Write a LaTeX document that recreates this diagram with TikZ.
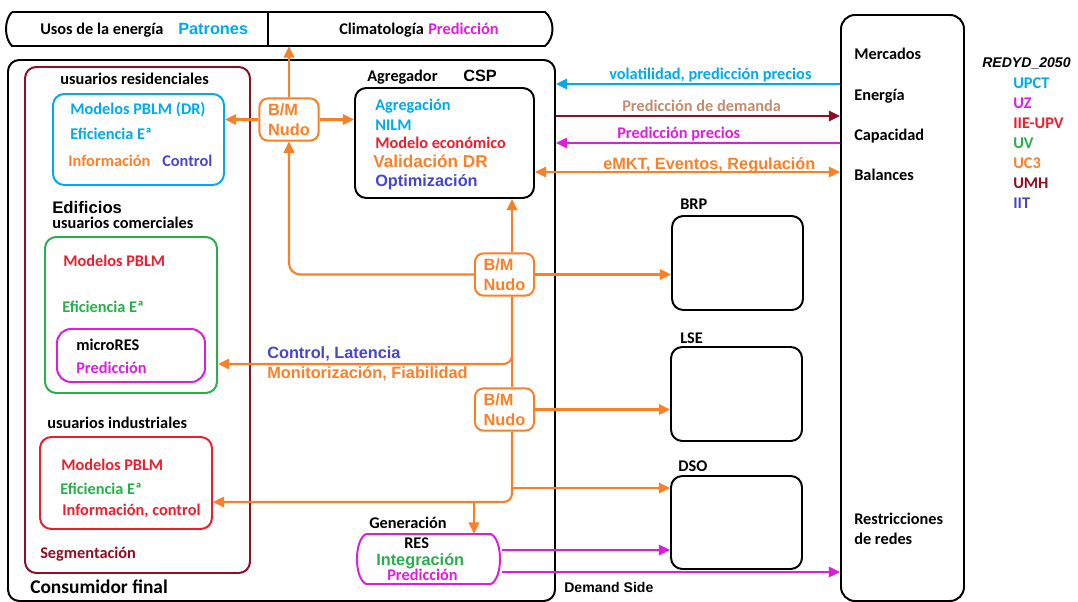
\documentclass[tikz,border=0pt]{standalone}
\usepackage{fontspec}
\setmainfont{Carlito}
\newfontfamily\arialfam{Liberation Sans}
\usetikzlibrary{arrows.meta,fit,positioning}

\definecolor{ccyan}{RGB}{0,170,235}
\definecolor{cmag}{RGB}{220,30,220}
\definecolor{cred}{RGB}{235,30,45}
\definecolor{cgreen}{RGB}{40,175,75}
\definecolor{corange}{RGB}{250,128,40}
\definecolor{cdred}{RGB}{140,15,35}
\definecolor{cblue}{RGB}{70,70,205}
\definecolor{ctan}{RGB}{195,140,110}

\newcommand\calb{\fontsize{11.6}{13}\selectfont\bfseries}
\newcommand\arlb{\arialfam\fontsize{11.6}{13}\selectfont\bfseries}

\tikzset{
	grp/.style={draw=#1, line width=1.4pt, rounded corners=8pt, inner sep=0pt},
	grp/.default=black,
	txt/.style={anchor=base west, inner sep=0pt, font=\calb, text=#1},
	txt/.default=black,
	atxt/.style={anchor=base west, inner sep=0pt, font=\arlb, text=#1},
	atxt/.default=black,
	bm/.style={draw=corange, text=corange, line width=1.4pt, rounded corners=6pt, align=left,
		minimum width=42pt, minimum height=30pt, inner sep=1pt,
		font=\arialfam\fontsize{11.6}{14.2}\selectfont\bfseries},
	link/.style={draw=#1, line width=1.5pt, ->},
	link/.default=corange,
	wire/.style={draw=corange, line width=1.5pt},
}

\begin{document}
\begin{tikzpicture}[x=0.025cm, y=-0.025cm, >={Triangle[length=8pt,width=7.5pt]}]
	\useasboundingbox (0,0) rectangle (1078,602);
	
	%Banner
	\node[fit={(6,12) (556,46)}, inner sep=0pt] (banner) {};
	\draw[line width=1.4pt] (12,12) -- (545,12) .. controls (555,20) and (555,38) .. (545,46) -- (12,46) .. controls (4,38) and (4,20) .. (12,12);
	\draw[line width=1.4pt] (268,12) -- (268,46);
	\node[txt] (usos) at (40,35) {Usos de la energía};
	\node[atxt=ccyan] (patrones) at (178,35) {Patrones};
	\node[txt] (clima) at (339,35) {Climatología};
	\node[txt=cmag] (climapred) at (428,35) {Predicción};
	
	%Consumidor final
	\node[grp, fit={(8,60) (555,601)}] (final) {};
	\node[grp=cdred, fit={(25,67) (250,573)}] (segm) {};
	\node[txt, font=\fontsize{13.8}{15}\selectfont\bfseries] (finaltxt) at (30,593) {Consumidor final};
	\node[txt=cdred] (segmtxt) at (40,558) {Segmentación};
	%usuarios residenciales
	\node[txt] (resid) at (60,85) {usuarios residenciales};
	\node[grp=ccyan, fit={(53,94) (224,185)}] (resbox) {};
	\node[txt=ccyan] (resmod) at (70,115) {Modelos PBLM (DR)};
	\node[txt=ccyan] (reseff) at (70,140) {Eficiencia Eª};
	\node[txt=corange] (resinf) at (68,167) {Información};
	\node[txt=cblue] (resctl) at (162,167) {Control};
	%usuarios comerciales
	\node[atxt, font=\arialfam\fontsize{11.9}{13}\selectfont\bfseries] (edif) at (52,214) {Edificios};
	\node[txt] (comer) at (52,229) {usuarios comerciales};
	\node[grp=cgreen, fit={(45,237) (217,393)}] (combox) {};
	\node[txt=cred] (commod) at (63,267) {Modelos PBLM};
	\node[txt=cgreen] (comeff) at (62,313) {Eficiencia Eª};
	\node[grp=cmag, rounded corners=10pt, fit={(57,329) (205,382)}] (microres) {};
	\node[txt] (microtxt) at (76,351) {microRES};
	\node[txt=cmag] (micropred) at (76,374) {Predicción};
	%usuarios industriales
	\node[txt] (indus) at (47,429) {usuarios industriales};
	\node[grp=cred, fit={(40,437) (212,529)}] (indbox) {};
	\node[txt=cred] (indmod) at (61,470) {Modelos PBLM};
	\node[txt=cgreen] (indeff) at (60,494) {Eficiencia Eª};
	\node[txt=cred] (indinf) at (62,515) {Información, control};
	
	%Agregador
	\node[txt] (aggtxt) at (367,82) {Agregador};
	\node[atxt] (csp) at (463,82) {CSP};
	\node[grp, fit={(355,88) (534,198)}] (agg) {};
	\node[txt=ccyan] (aggr) at (375,111) {Agregación};
	\node[txt=ccyan] (nilm) at (375,131) {NILM};
	\node[txt=cred] (econ) at (375,149) {Modelo económico};
	\node[atxt=corange, font=\arialfam\fontsize{12.2}{13}\selectfont\bfseries] (valdr) at (373,168) {Validación DR};
	\node[atxt=cblue] (optim) at (375,187) {Optimización};
	
	%Generacion
	\node[txt] (gentxt) at (369,528) {Generación};
	\node[fit={(355,534) (502,584)}, inner sep=0pt] (gen) {};
	\draw[cmag, line width=1.4pt] (366,534) -- (491,534) .. controls (503,540) and (503,578) .. (491,584) -- (366,584) .. controls (354,578) and (354,540) .. (366,534);
	\node[txt] (restxt) at (404,548) {RES};
	\node[atxt=cgreen] (integ) at (376,565) {Integración};
	\node[txt=cmag] (respred) at (387,580) {Predicción};
	
	%Demand Side
	\node[atxt, font=\arialfam\fontsize{10}{12}\selectfont\bfseries] (demside) at (564,592) {Demand Side};
	\node[txt] (brptxt) at (680,210) {BRP};
	\node[grp, fit={(672,216) (803,310)}] (brp) {};
	\node[txt] (lsetxt) at (680,344) {LSE};
	\node[grp, fit={(671,347) (802,441)}] (lse) {};
	\node[txt] (dsotxt) at (678,471) {DSO};
	\node[grp, fit={(671,476) (802,569)}] (dso) {};
	
	%B/M Nudo
	\node[bm] (bm1) at (289,119.5) {B/M\\Nudo};
	\node[bm] (bm2) at (504.5,274.5) {B/M\\Nudo};
	\node[bm] (bm3) at (504.5,409.5) {B/M\\Nudo};
	\coordinate (trunk) at (512,0);
	\coordinate (genx) at (474,0);
	\coordinate (ctlrow) at (0,364);
	\coordinate (dsorow) at (0,488);
	\coordinate (indrow) at (0,502);
	\draw[link] (bm1.west) -- (bm1.west -| resbox.east);
	\draw[link] (bm1.east) -- (bm1.east -| agg.west);
	\draw[link] (bm1.north) -- (bm1.north |- banner.south);
	\draw[link, rounded corners=8pt] (bm2.west) -| (bm1.south);
	\draw[link] (bm2.north -| trunk) -- (agg.south -| trunk);
	\draw[link] (bm2.east) -- (bm2.east -| brp.west);
	\draw[wire] (bm2.south -| trunk) -- (bm3.north -| trunk);
	\draw[link, rounded corners=6pt] (bm2.south -| trunk) |- (ctlrow -| combox.east);
	\node[atxt=cblue] (ctllat) at (267,359) {Control, Latencia};
	\node[atxt=corange] (monfia) at (267,378) {Monitorización, Fiabilidad};
	\draw[link] (bm3.east) -- (bm3.east -| lse.west);
	\draw[link, rounded corners=6pt] (bm3.south -| trunk) |- (indrow -| indbox.east);
	\draw[link] (trunk |- dsorow) -- (dsorow -| dso.west);
	\draw[link] (genx |- indrow) -- (genx |- gen.north);
	
	%Mercados
	\node[grp, rounded corners=10pt, fit={(841,15) (964,601)}] (mkt) {};
	\node[txt] (merc) at (854,60) {Mercados};
	\node[txt] (ener) at (854,101) {Energía};
	\node[txt] (capa) at (854,141) {Capacidad};
	\node[txt] (bala) at (854,181) {Balances};
	\node[txt] (restr) at (854,524) {Restricciones};
	\node[txt] (redes) at (854,544) {de redes};
	\coordinate (volrow) at (0,84);
	\coordinate (demrow) at (0,116);
	\coordinate (prerow) at (0,143);
	\coordinate (emkrow) at (0,172);
	\coordinate (resrow) at (0,550);
	\coordinate (rstrow) at (0,572);
	\draw[link=ccyan] (mkt.west |- volrow) -- (final.east |- volrow);
	\node[txt=ccyan] (vol) at (609,80) {volatilidad, predicción precios};
	\draw[link=cdred] (final.east |- demrow) -- (mkt.west |- demrow);
	\node[txt=ctan] (demp) at (622,112) {Predicción de demanda};
	\draw[link=cmag] (mkt.west |- prerow) -- (final.east |- prerow);
	\node[txt=cmag] (prep) at (617,139) {Predicción precios};
	\draw[link, <->] (agg.east |- emkrow) -- (mkt.west |- emkrow);
	\node[atxt=corange] (emkt) at (603,170) {eMKT, Eventos, Regulación};
	\draw[link=cmag] (gen.east |- resrow) -- (resrow -| dso.west);
	\draw[link=cmag] (gen.east |- rstrow) -- (rstrow -| mkt.west);
	
	%REDYD_2050
	\node[atxt, font=\arialfam\fontsize{10}{12}\selectfont\bfseries\itshape] (redyd) at (982,68) {REDYD\_2050};
	\node[txt=ccyan] (upct) at (1013,89) {UPCT};
	\node[txt=cmag] (uz) at (1013,109) {UZ};
	\node[txt=cred] (iie) at (1013,129) {IIE-UPV};
	\node[txt=cgreen] (uv) at (1013,149) {UV};
	\node[txt=corange] (uc3) at (1013,169) {UC3};
	\node[txt=cdred] (umh) at (1013,189) {UMH};
	\node[txt=cblue] (iit) at (1013,209) {IIT};
\end{tikzpicture}
\end{document}
